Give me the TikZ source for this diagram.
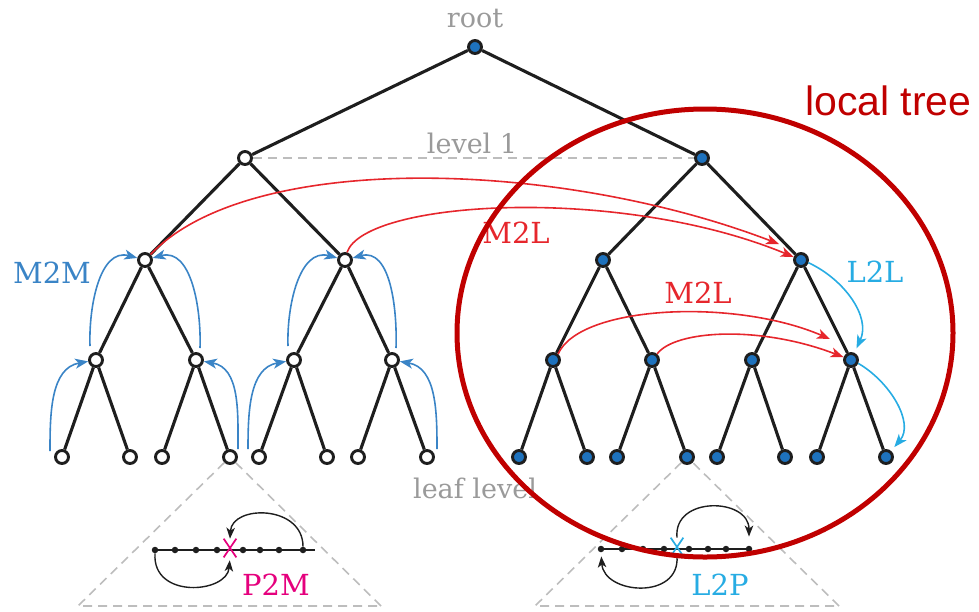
\documentclass[tikz,border=0pt]{standalone}
\usepackage{fontspec}
\setmainfont{DejaVu Serif}
\newfontfamily\headfont{Liberation Sans}
\usetikzlibrary{arrows.meta,shapes.misc}
\definecolor{nodeblue}{HTML}{1E72BD}
\definecolor{edgeblack}{HTML}{1E1E1E}
\definecolor{m2mblue}{HTML}{3A84C6}
\definecolor{l2lcyan}{HTML}{27ACE3}
\definecolor{m2lred}{HTML}{E6262C}
\definecolor{p2mpink}{HTML}{E5007D}
\definecolor{ringred}{HTML}{C00000}
\definecolor{guidegray}{HTML}{BDBDBD}
\definecolor{labelgray}{HTML}{9A9A9A}

\begin{document}
\begin{tikzpicture}[x=1pt,y=-1pt,
  treenode/.style={circle, draw=edgeblack, line width=2.9pt, minimum size=13pt, inner sep=0pt},
  opennode/.style={treenode, fill=white},
  fullnode/.style={treenode, fill=nodeblue},
  treeedge/.style={draw=edgeblack, line width=3.1pt},
  guideline/.style={draw=guidegray, line width=1.6pt, dash pattern=on 9pt off 6pt},
  bigtip/.style={-{Stealth[length=13pt,width=10pt,inset=3.5pt]}},
  smalltip/.style={-{Stealth[length=11pt,width=8.5pt,inset=3pt]}},
  m2m/.style={draw=m2mblue, line width=1.6pt, bigtip},
  m2l/.style={draw=m2lred, line width=1.6pt, bigtip},
  l2l/.style={draw=l2lcyan, line width=1.6pt, bigtip},
  localarc/.style={draw=edgeblack, line width=1.4pt, smalltip},
  pointdot/.style={circle, fill=edgeblack, inner sep=0pt, minimum size=6.5pt},
  crossmark/.style={cross out, line width=1.7pt, inner sep=0pt, minimum width=11pt, minimum height=17pt},
  oplabel/.style={font=\fontsize{29}{29}\selectfont, inner sep=0pt, anchor=base},
  graylabel/.style={font=\fontsize{27}{27}\selectfont, text=labelgray, inner sep=0pt, anchor=base}
]
\useasboundingbox (0,0) rectangle (979,611);

% ---- tree nodes ----
\node[fullnode] (R)  at (475,47)  {};
\node[opennode] (A1) at (245,158) {};
\node[fullnode] (A2) at (702,158) {};
\node[opennode] (B1) at (145,260) {};
\node[opennode] (B2) at (345,260) {};
\node[fullnode] (B3) at (603,260) {};
\node[fullnode] (B4) at (801,260) {};
\node[opennode] (C1) at (96,360)  {};
\node[opennode] (C2) at (196,360) {};
\node[opennode] (C3) at (294,360) {};
\node[opennode] (C4) at (392,360) {};
\node[fullnode] (C5) at (553,360) {};
\node[fullnode] (C6) at (652,360) {};
\node[fullnode] (C7) at (752,360) {};
\node[fullnode] (C8) at (851,360) {};
\foreach \n/\x in {1/62,2/130,3/162,4/230,5/259,6/327,7/358,8/427}
  \node[opennode] (D\n) at (\x,457) {};
\foreach \n/\x in {9/519,10/587,11/617,12/687,13/717,14/785,15/817,16/886}
  \node[fullnode] (D\n) at (\x,457) {};

% ---- tree edges ----
\foreach \p/\c in {R/A1,R/A2,A1/B1,A1/B2,A2/B3,A2/B4,
                   B1/C1,B1/C2,B2/C3,B2/C4,B3/C5,B3/C6,B4/C7,B4/C8,
                   C1/D1,C1/D2,C2/D3,C2/D4,C3/D5,C3/D6,C4/D7,C4/D8,
                   C5/D9,C5/D10,C6/D11,C6/D12,C7/D13,C7/D14,C8/D15,C8/D16}
  \draw[treeedge] (\p) -- (\c);

% ---- guide lines ----
\draw[guideline] (A1) -- (A2);
\coordinate (TLa) at (78,606);
\coordinate (TLb) at (381,606);
\coordinate (TRa) at (535,606);
\coordinate (TRb) at (839,606);
\draw[guideline] (TLb) -- (D4) -- (TLa) -- (TLb);
\draw[guideline] (TRb) -- (D12) -- (TRa) -- (TRb);

% ---- level labels ----
\node[graylabel] (rootlab) at (475,27)  {root};
\node[graylabel] (lvllab)  at (472,153) {level 1};
\node[graylabel] (leaflab) at (475,498) {leaf level};

% ---- M2M: upward passes ----
\draw[m2m] ([shift={(-12pt,6pt)}]D1.center) to[out=90,in=190] (C1);
\draw[m2m] ([shift={(8pt,8pt)}]D4.center)   to[out=90,in=-10] (C2);
\draw[m2m] ([shift={(-11pt,8pt)}]D5.center) to[out=90,in=190] (C3);
\draw[m2m] ([shift={(10pt,8pt)}]D8.center)  to[out=90,in=-10] (C4);
\draw[m2m] ([shift={(-6pt,14pt)}]C1.center) to[out=92,in=165] (B1);
\draw[m2m] ([shift={(4pt,12pt)}]C2.center)  to[out=88,in=15]  (B1);
\draw[m2m] ([shift={(-6pt,14pt)}]C3.center) to[out=92,in=165] (B2);
\draw[m2m] ([shift={(4pt,12pt)}]C4.center)  to[out=88,in=15]  (B2);
\node[oplabel, text=m2mblue] (m2mlab) at (52,283) {M2M};

% ---- M2L: transfers ----
\draw[m2l] (B1.45) .. controls (250,150) and (560,160) .. ([shift={(-22pt,16pt)}]B4.center);
\draw[m2l] (B2.75) .. controls (365,200) and (620,185) .. (B4);
\draw[m2l] (C5.50) .. controls (580,305) and (735,298) .. ([shift={(-21pt,21pt)}]C8.center);
\draw[m2l] (C6.50) .. controls (675,330) and (760,325) .. (C8);
\node[oplabel, text=m2lred] (m2llabA) at (516,243) {M2L};
\node[oplabel, text=m2lred] (m2llabB) at (698,303) {M2L};

% ---- L2L: downward passes ----
\draw[l2l, shorten >=5pt] (B4.-20) to[out=-25,in=65] (C8);
\draw[l2l, shorten >=5pt] (C8.-25) to[out=-30,in=50] (D16);
\node[oplabel, text=l2lcyan] (l2llab) at (875,282) {L2L};

% ---- P2M inside a leaf ----
\foreach \n/\x in {1/155,2/175,3/196,4/217,5/243,6/260,7/279,8/303}
  \node[pointdot] (pL\n) at (\x,550) {};
\draw[edgeblack, line width=1.3pt] ([xshift=-3pt]pL1.center) -- ([xshift=12pt]pL8.center);
\node[crossmark, draw=p2mpink] (xL) at (230,548) {};
\draw[localarc] (pL8.north) .. controls +(0,-42) and +(2,-34) .. (xL.north);
\draw[localarc, shorten >=3pt] (pL1.south) .. controls +(-3,46) and +(-3,36) .. (xL.south);
\node[oplabel, text=p2mpink] (p2mlab) at (276,595) {P2M};

% ---- L2P inside a leaf ----
\foreach \n/\x in {1/601,2/622,3/643,4/664,5/689,6/708,7/726,8/749}
  \node[pointdot] (pR\n) at (\x,549) {};
\draw[edgeblack, line width=1.3pt] ([xshift=-3pt]pR1.center) -- ([xshift=3pt]pR8.center);
\node[crossmark, draw=l2lcyan] (xR) at (677,547) {};
\draw[localarc, shorten >=9pt] (xR.north) .. controls +(-4,-42) and +(0,-48) .. (pR8.north);
\draw[localarc, shorten >=4pt] (xR.south) .. controls +(3,44) and +(3,42) .. (pR1.south);
\node[oplabel, text=l2lcyan] (l2plab) at (720,595) {L2P};

% ---- local tree ring ----
\draw[ringred, line width=5pt] (705,333) ellipse [x radius=248, y radius=224];
\node[font=\headfont\fontsize{41}{41}\selectfont, text=ringred, inner sep=0pt, anchor=base west] (localtitle) at (805,115) {local tree};
\end{tikzpicture}
\end{document}
